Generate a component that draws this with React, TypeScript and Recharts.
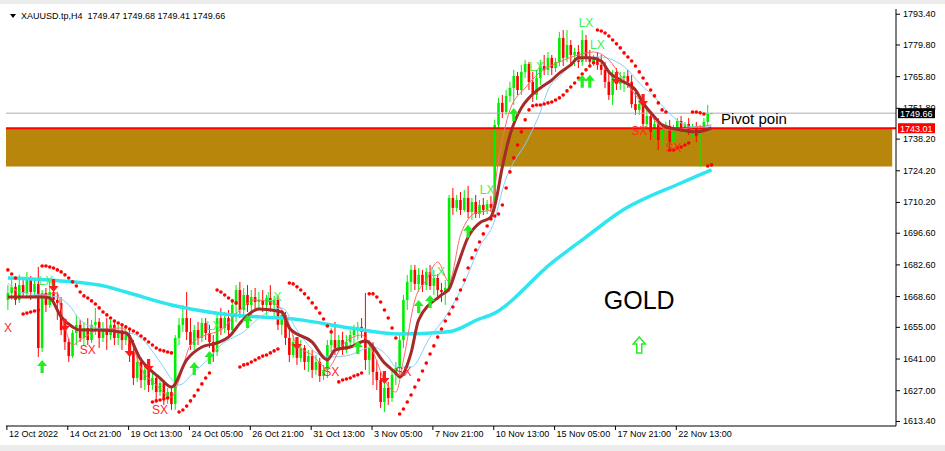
import React from "react";
import {
  ComposedChart,
  Bar,
  Line,
  XAxis,
  YAxis,
  ReferenceLine,
  ReferenceArea,
  ReferenceDot,
} from "recharts";

// H4 bars, 12 Oct 2022 .. 24 Nov 2022 (chart keeps empty room on the right)
const SLOTS = 234;
const LABEL_STEP = 16;
const timeLabels = [
  "12 Oct 2022", "14 Oct 21:00", "19 Oct 13:00", "24 Oct 05:00", "26 Oct 21:00", "31 Oct 13:00",
  "3 Nov 05:00", "7 Nov 21:00", "10 Nov 13:00", "15 Nov 05:00", "17 Nov 21:00", "22 Nov 13:00",
];
const priceTicks = [
  1793.4, 1779.8, 1765.8, 1751.8, 1738.2, 1724.2, 1710.2, 1696.6, 1682.6, 1668.6, 1655.0, 1641.0,
  1627.0, 1613.4,
];

const opens = [
  1667.1, 1670.2, 1672.9, 1667.1, 1673.7, 1670.2, 1675.9, 1670.6, 1674.2, 1645.9,
  1670.2, 1664.9, 1670.6, 1667.1, 1665.8, 1653.8, 1648.5, 1642.3, 1652.5, 1656.1,
  1650.3, 1654.7, 1649.4, 1656.1, 1657.4, 1650.3, 1654.7, 1651.6, 1656.1, 1650.3,
  1653.8, 1649.4, 1651.6, 1644.1, 1632.6, 1639.7, 1631.7, 1636.2, 1629.5, 1632.6,
  1626.4, 1630.4, 1623.8, 1626.4, 1621.1, 1650.3, 1656.1, 1659.1, 1653.0, 1647.2,
  1653.8, 1650.3, 1656.9, 1652.5, 1648.5, 1644.1, 1659.1, 1654.7, 1659.1, 1653.8,
  1664.9, 1671.5, 1662.7, 1669.3, 1664.9, 1668.4, 1666.2, 1667.1, 1664.9, 1668.0,
  1664.9, 1667.1, 1656.1, 1660.5, 1650.3, 1642.8, 1648.5, 1641.5, 1645.9, 1639.7,
  1642.3, 1636.2, 1639.7, 1633.5, 1636.2, 1647.2, 1649.4, 1645.9, 1649.4, 1645.0,
  1648.5, 1651.6, 1653.8, 1655.2, 1653.0, 1640.6, 1645.9, 1635.3, 1631.7, 1622.0,
  1628.2, 1623.8, 1634.0, 1637.0, 1649.4, 1667.1, 1675.1, 1680.4, 1674.2, 1678.2,
  1673.7, 1679.5, 1673.3, 1676.8, 1671.5, 1670.6, 1672.4, 1712.2, 1707.8, 1711.3,
  1706.9, 1712.2, 1706.0, 1710.4, 1705.1, 1709.1, 1706.9, 1709.5, 1707.8, 1744.5,
  1754.2, 1750.2, 1757.3, 1760.8, 1766.1, 1759.9, 1767.9, 1771.4, 1763.5, 1757.7,
  1765.2, 1770.5, 1768.8, 1774.1, 1769.6, 1772.3, 1782.9, 1774.1, 1779.8, 1775.4,
  1776.7, 1772.3, 1782.0, 1774.1, 1772.3, 1774.5, 1771.0, 1768.8, 1763.5, 1757.7,
  1766.5, 1762.6, 1765.2, 1766.1, 1763.5, 1753.7, 1751.1, 1753.7, 1744.9, 1748.4,
  1741.4, 1744.9, 1737.8, 1742.2, 1744.0, 1736.9, 1741.4, 1746.2, 1743.1, 1744.9,
  1741.8, 1743.6, 1739.6, 1743.1, 1745.8, 1749.47,
];
const highs = [
  1673.7, 1675.9, 1674.6, 1678.2, 1675.9, 1679.5, 1677.7, 1676.8, 1681.7, 1671.5,
  1672.4, 1675.1, 1673.7, 1670.6, 1668.4, 1657.4, 1650.3, 1653.8, 1660.5, 1658.3,
  1657.4, 1659.1, 1658.3, 1663.6, 1659.1, 1657.4, 1659.1, 1658.3, 1658.3, 1656.1,
  1656.1, 1654.7, 1653.8, 1649.4, 1642.8, 1641.5, 1638.4, 1639.7, 1635.3, 1634.0,
  1632.6, 1631.7, 1628.2, 1628.2, 1651.6, 1659.1, 1664.9, 1670.6, 1659.1, 1656.1,
  1657.4, 1659.1, 1659.1, 1656.1, 1651.6, 1661.8, 1663.6, 1661.8, 1662.7, 1667.1,
  1673.7, 1675.1, 1672.4, 1673.7, 1671.5, 1672.4, 1670.6, 1671.5, 1669.3, 1673.7,
  1668.9, 1668.9, 1662.7, 1661.8, 1654.7, 1651.6, 1650.3, 1649.4, 1647.2, 1645.0,
  1645.0, 1642.8, 1641.5, 1638.4, 1649.4, 1654.7, 1657.4, 1651.6, 1653.0, 1651.6,
  1653.8, 1656.1, 1657.4, 1659.1, 1670.2, 1649.4, 1648.5, 1640.6, 1635.3, 1631.7,
  1630.9, 1636.2, 1639.7, 1651.6, 1669.3, 1678.2, 1682.6, 1682.6, 1681.2, 1680.4,
  1681.2, 1682.6, 1680.4, 1678.6, 1674.6, 1675.9, 1713.5, 1716.6, 1713.5, 1714.8,
  1715.7, 1717.5, 1712.2, 1713.5, 1711.3, 1712.2, 1711.3, 1713.1, 1746.7, 1756.4,
  1757.7, 1759.9, 1763.5, 1768.8, 1767.9, 1771.0, 1773.2, 1772.3, 1767.9, 1768.8,
  1773.2, 1775.4, 1776.7, 1775.4, 1774.1, 1785.6, 1786.4, 1786.4, 1782.0, 1778.5,
  1779.8, 1786.4, 1784.2, 1777.6, 1775.4, 1776.7, 1775.4, 1772.3, 1768.8, 1768.8,
  1769.6, 1767.9, 1767.9, 1768.8, 1766.5, 1760.8, 1755.5, 1757.3, 1751.1, 1750.2,
  1747.5, 1747.5, 1744.5, 1745.8, 1746.7, 1744.5, 1747.5, 1748.4, 1745.8, 1747.5,
  1744.9, 1745.8, 1744.5, 1747.5, 1753.3, 1749.68,
];
const lows = [
  1662.7, 1667.1, 1664.9, 1665.8, 1668.0, 1668.9, 1667.1, 1668.4, 1641.9, 1644.1,
  1661.8, 1663.6, 1664.9, 1658.3, 1651.6, 1645.0, 1639.7, 1641.5, 1647.2, 1648.5,
  1647.2, 1647.2, 1648.1, 1651.6, 1645.9, 1648.5, 1645.0, 1649.4, 1647.2, 1647.2,
  1645.0, 1647.2, 1639.7, 1629.5, 1630.9, 1628.2, 1627.3, 1626.4, 1627.3, 1622.9,
  1624.7, 1620.7, 1621.1, 1618.5, 1618.5, 1647.2, 1653.0, 1649.4, 1645.0, 1645.0,
  1647.2, 1648.5, 1649.4, 1645.9, 1639.7, 1642.3, 1651.6, 1652.5, 1650.3, 1651.6,
  1657.4, 1659.1, 1660.5, 1661.8, 1660.5, 1662.7, 1662.7, 1661.8, 1660.5, 1661.8,
  1659.1, 1653.8, 1651.6, 1647.2, 1639.7, 1641.5, 1638.4, 1639.7, 1636.2, 1635.3,
  1632.6, 1634.0, 1630.9, 1631.7, 1632.6, 1644.1, 1642.8, 1644.1, 1642.8, 1643.7,
  1645.9, 1647.2, 1649.4, 1650.3, 1636.2, 1634.0, 1629.5, 1627.3, 1619.4, 1617.6,
  1620.7, 1622.0, 1629.5, 1634.0, 1645.9, 1662.7, 1670.6, 1671.5, 1670.6, 1670.6,
  1671.5, 1671.5, 1669.3, 1667.1, 1666.2, 1664.9, 1670.6, 1704.7, 1706.0, 1704.7,
  1706.0, 1703.3, 1702.5, 1703.3, 1703.3, 1704.7, 1705.1, 1706.0, 1706.0, 1742.2,
  1747.5, 1748.9, 1754.6, 1753.3, 1757.7, 1757.7, 1765.2, 1759.9, 1754.6, 1755.5,
  1762.1, 1766.5, 1766.5, 1766.5, 1767.9, 1770.5, 1770.5, 1772.3, 1771.0, 1770.5,
  1769.6, 1770.5, 1772.3, 1771.0, 1770.5, 1768.8, 1766.5, 1760.8, 1755.5, 1753.3,
  1759.9, 1759.9, 1759.0, 1760.8, 1752.0, 1748.9, 1748.9, 1743.1, 1742.2, 1737.8,
  1738.7, 1733.4, 1735.6, 1738.7, 1734.3, 1732.5, 1739.1, 1741.4, 1740.5, 1740.0,
  1738.7, 1736.9, 1725.9, 1741.4, 1744.5, 1749.41,
];
const closes = [
  1670.2, 1672.9, 1667.1, 1673.7, 1670.2, 1675.9, 1670.6, 1674.2, 1645.9, 1670.2,
  1664.9, 1670.6, 1667.1, 1665.8, 1653.8, 1648.5, 1642.3, 1652.5, 1656.1, 1650.3,
  1654.7, 1649.4, 1656.1, 1657.4, 1650.3, 1654.7, 1651.6, 1656.1, 1650.3, 1653.8,
  1649.4, 1651.6, 1644.1, 1632.6, 1639.7, 1631.7, 1636.2, 1629.5, 1632.6, 1626.4,
  1630.4, 1623.8, 1626.4, 1621.1, 1650.3, 1656.1, 1659.1, 1653.0, 1647.2, 1653.8,
  1650.3, 1656.9, 1652.5, 1648.5, 1644.1, 1659.1, 1654.7, 1659.1, 1653.8, 1664.9,
  1671.5, 1662.7, 1669.3, 1664.9, 1668.4, 1666.2, 1667.1, 1664.9, 1668.0, 1664.9,
  1667.1, 1656.1, 1660.5, 1650.3, 1642.8, 1648.5, 1641.5, 1645.9, 1639.7, 1642.3,
  1636.2, 1639.7, 1633.5, 1636.2, 1647.2, 1649.4, 1645.9, 1649.4, 1645.0, 1648.5,
  1651.6, 1653.8, 1655.2, 1653.0, 1640.6, 1645.9, 1635.3, 1631.7, 1622.0, 1628.2,
  1623.8, 1634.0, 1637.0, 1649.4, 1667.1, 1675.1, 1680.4, 1674.2, 1678.2, 1673.7,
  1679.5, 1673.3, 1676.8, 1671.5, 1670.6, 1672.4, 1712.2, 1707.8, 1711.3, 1706.9,
  1712.2, 1706.0, 1710.4, 1705.1, 1709.1, 1706.9, 1709.5, 1707.8, 1744.5, 1754.2,
  1750.2, 1757.3, 1760.8, 1766.1, 1759.9, 1767.9, 1771.4, 1763.5, 1757.7, 1765.2,
  1770.5, 1768.8, 1774.1, 1769.6, 1772.3, 1782.9, 1774.1, 1779.8, 1775.4, 1776.7,
  1772.3, 1782.0, 1774.1, 1772.3, 1774.5, 1771.0, 1768.8, 1763.5, 1757.7, 1766.5,
  1762.6, 1765.2, 1766.1, 1763.5, 1753.7, 1751.1, 1753.7, 1744.9, 1748.4, 1741.4,
  1744.9, 1737.8, 1742.2, 1744.0, 1736.9, 1741.4, 1746.2, 1743.1, 1744.9, 1741.8,
  1743.6, 1739.6, 1743.1, 1745.8, 1749.5, 1749.66,
];

// indicator readings as [bar index, price]
const maThick = [
  [0, 1668.4], [9, 1668.4], [11, 1668.0], [14, 1659.6], [17, 1655.2], [19, 1653.8], [24, 1653.8],
  [31, 1652.5], [35, 1640.6], [40, 1632.6], [43, 1628.6], [47, 1640.6], [51, 1646.3], [55, 1648.1],
  [58, 1650.7], [62, 1658.7], [66, 1663.1], [72, 1661.8], [74, 1654.7], [80, 1648.5], [84, 1640.6],
  [86, 1645.0], [90, 1646.3], [94, 1649.0], [99, 1639.3], [102, 1634.8], [103, 1633.1],
  [106, 1643.7], [108, 1658.3], [114, 1669.3], [116, 1672.0], [118, 1681.2], [121, 1694.9],
  [124, 1701.1], [127, 1703.8], [128, 1708.6], [130, 1725.9], [132, 1740.0], [135, 1752.0],
  [137, 1756.4], [140, 1760.8], [143, 1764.3], [145, 1767.4], [148, 1771.0], [150, 1774.1],
  [153, 1774.1], [156, 1772.7], [158, 1767.9], [161, 1764.3], [165, 1759.9], [167, 1754.2],
  [170, 1748.0], [172, 1744.5], [177, 1742.2], [181, 1741.4], [185, 1743.1],
];
const maFast = [
  [0, 1668.4], [9, 1669.3], [13, 1670.2], [14, 1662.7], [17, 1647.2], [19, 1649.4], [24, 1653.8],
  [30, 1654.7], [32, 1650.3], [35, 1637.0], [39, 1629.5], [43, 1624.2], [45, 1631.7], [48, 1647.2],
  [52, 1651.6], [56, 1653.8], [61, 1662.7], [65, 1667.1], [69, 1666.2], [73, 1660.5], [76, 1647.2],
  [80, 1642.8], [84, 1637.0], [88, 1647.2], [93, 1651.6], [96, 1644.1], [99, 1631.7], [102, 1626.4],
  [104, 1640.6], [107, 1667.1], [110, 1675.9], [113, 1683.9], [116, 1675.1], [119, 1695.8],
  [123, 1705.6], [127, 1706.9], [129, 1729.0], [132, 1751.1], [136, 1760.8], [140, 1767.9],
  [145, 1772.3], [150, 1775.4], [154, 1776.7], [158, 1773.2], [161, 1766.5], [163, 1762.1],
  [166, 1755.5], [169, 1748.9], [171, 1744.5], [174, 1742.2], [179, 1743.1], [185, 1744.5],
];
const maMid = [
  [0, 1674.6], [3, 1670.6], [13, 1668.4], [16, 1664.9], [19, 1658.3], [22, 1655.2], [28, 1653.8],
  [31, 1653.0], [35, 1650.3], [40, 1639.7], [44, 1630.4], [45, 1629.5], [49, 1635.3], [53, 1641.5],
  [56, 1647.2], [59, 1650.3], [62, 1653.0], [66, 1659.1], [72, 1663.6], [76, 1653.8], [82, 1642.8],
  [85, 1641.9], [90, 1642.8], [93, 1645.0], [96, 1646.3], [100, 1641.9], [102, 1637.5],
  [106, 1637.5], [111, 1650.7], [115, 1659.6], [120, 1674.6], [124, 1690.5], [128, 1702.5],
  [130, 1715.7], [137, 1739.1], [140, 1750.2], [142, 1759.9], [145, 1765.7], [150, 1773.2],
  [156, 1774.5], [159, 1773.2], [163, 1768.8], [166, 1763.0], [170, 1756.8], [173, 1751.1],
  [177, 1745.4], [180, 1743.6], [185, 1743.6],
];
const maSlow = [
  [0, 1676.8], [24, 1673.7], [31, 1670.6], [43, 1664.9], [56, 1661.0], [77, 1658.3], [90, 1654.7],
  [103, 1652.1], [116, 1653.1], [124, 1658.7], [127, 1660.5], [143, 1683.5], [152, 1694.9],
  [161, 1706.1], [177, 1718.8], [185, 1724.6],
];
const sarDots = [
  [0, 1680.4], [1, 1678.6], [2, 1676.8], [4, 1660.9], [5, 1661.3], [6, 1661.8], [7, 1662.2],
  [8, 1662.7], [9, 1682.1], [10, 1682.1], [11, 1681.7], [12, 1681.2], [13, 1680.4], [14, 1679.5],
  [15, 1678.2], [16, 1676.8], [17, 1675.1], [18, 1673.3], [19, 1670.6], [20, 1668.9], [21, 1668.0],
  [22, 1666.7], [23, 1665.3], [24, 1663.6], [25, 1661.8], [26, 1660.5], [27, 1659.1], [28, 1657.8],
  [29, 1656.9], [30, 1656.1], [31, 1655.2], [32, 1654.3], [33, 1653.4], [34, 1652.5], [35, 1651.2],
  [36, 1649.9], [37, 1648.5], [38, 1647.2], [39, 1645.9], [40, 1645.0], [41, 1644.6], [42, 1644.1],
  [43, 1643.7], [45, 1617.6], [46, 1618.5], [47, 1620.2], [48, 1622.5], [49, 1624.7], [50, 1627.3],
  [51, 1630.0], [52, 1632.6], [53, 1634.8], [55, 1671.5], [56, 1670.6], [57, 1669.3], [58, 1668.0],
  [59, 1666.7], [60, 1665.8], [61, 1637.5], [62, 1638.4], [63, 1638.8], [64, 1639.7], [65, 1640.6],
  [66, 1641.5], [67, 1642.3], [68, 1642.8], [69, 1643.7], [70, 1644.6], [71, 1645.4], [74, 1674.6],
  [75, 1674.2], [76, 1672.9], [77, 1671.5], [78, 1669.8], [79, 1668.0], [80, 1665.8], [81, 1663.6],
  [82, 1661.3], [83, 1658.7], [84, 1655.6], [85, 1653.0], [87, 1630.9], [88, 1631.7], [89, 1632.2],
  [90, 1632.6], [91, 1633.5], [92, 1634.0], [93, 1634.8], [95, 1669.8], [96, 1669.8], [97, 1668.4],
  [98, 1666.2], [99, 1662.7], [100, 1659.1], [101, 1654.7], [102, 1650.3], [103, 1616.7],
  [104, 1618.9], [105, 1622.0], [106, 1625.1], [107, 1628.6], [108, 1631.7], [109, 1635.7],
  [110, 1639.2], [111, 1643.2], [112, 1646.8], [113, 1650.7], [114, 1654.3], [115, 1657.8],
  [116, 1660.9], [117, 1664.0], [118, 1667.5], [119, 1671.5], [120, 1675.9], [121, 1681.2],
  [122, 1685.7], [123, 1689.2], [124, 1692.7], [125, 1696.3], [126, 1699.8], [127, 1702.9],
  [128, 1704.2], [129, 1705.1], [130, 1709.1], [131, 1716.6], [132, 1723.7], [133, 1729.9],
  [134, 1735.6], [135, 1741.4], [136, 1746.7], [137, 1751.1], [138, 1752.9], [139, 1753.3],
  [140, 1753.3], [141, 1753.7], [142, 1754.2], [143, 1754.6], [144, 1755.5], [145, 1756.4],
  [146, 1757.7], [147, 1759.5], [148, 1761.2], [149, 1763.0], [150, 1765.2], [151, 1767.0],
  [152, 1768.8], [153, 1770.5], [154, 1771.9], [155, 1786.4], [156, 1786.0], [157, 1785.1],
  [158, 1783.8], [159, 1782.0], [160, 1780.3], [161, 1778.5], [162, 1776.3], [163, 1774.5],
  [164, 1772.7], [165, 1770.5], [166, 1767.9], [167, 1765.2], [168, 1762.6], [169, 1759.9],
  [170, 1757.3], [171, 1754.2], [172, 1751.1], [173, 1750.2], [180, 1750.2], [181, 1750.2],
  [182, 1749.8], [183, 1749.3], [184, 1726.3], [185, 1726.8],
];
const stopDots = [
  [38, 1622.0], [39, 1622.5], [40, 1622.9], [41, 1623.3], [42, 1623.8],
  [174, 1733.4], [175, 1733.4], [176, 1734.3], [177, 1734.7], [178, 1735.6], [179, 1736.5],
];
const upArrows = [
  [9, 1637.5], [49, 1636.6], [53, 1641.5], [63, 1657.4], [92, 1645.9], [108, 1664.0], [111, 1666.2],
  [121, 1697.2], [133, 1748.9], [151, 1763.5], [153, 1763.5],
];
const downArrows = [
  [12, 1673.7], [15, 1656.1], [32, 1645.0], [37, 1638.4], [76, 1648.1], [99, 1633.1], [160, 1765.2],
  [167, 1755.5],
];
const lxMarks = [
  [10, 1675.5], [54, 1655.6], [70, 1668.4], [113, 1679.5], [126, 1715.7], [139, 1770.1],
  [152, 1789.5], [155, 1779.8],
];
const sxMarks = [
  [21, 1645.0], [40, 1618.5], [85, 1635.3], [104, 1635.3], [166, 1741.8], [175, 1734.3],
];

const bidPrice = 1749.66;
const pivotPrice = 1743.01;
const zoneLow = 1726.1;

const FONT = "Liberation Sans, Arial, sans-serif";

function buildRows() {
  const rows: any[] = [];
  for (let i = 0; i < SLOTS; i++) {
    const r: any = { i };
    if (i < closes.length) {
      r.o = opens[i];
      r.h = highs[i];
      r.l = lows[i];
      r.c = closes[i];
      r.range = [lows[i], highs[i]];
    }
    rows.push(r);
  }
  const put = (key: string, pts: number[][]) =>
    pts.forEach(([i, v]) => {
      rows[i][key] = v;
    });
  put("thick", maThick);
  put("fast", maFast);
  put("mid", maMid);
  put("slow", maSlow);
  put("sar", sarDots);
  put("stop", stopDots);
  put("up", upArrows);
  put("down", downArrows);
  put("lx", lxMarks);
  put("sx", sxMarks);
  return rows;
}

const rows = buildRows();

const Candle = (props: any) => {
  const { x, y, width, height, payload } = props;
  if (!payload || payload.h == null) return <g />;
  const cx = x + width / 2;
  const k = height / (payload.h - payload.l);
  const yo = y + (payload.h - payload.o) * k;
  const yc = y + (payload.h - payload.c) * k;
  const color = payload.c >= payload.o ? "#00ee00" : "#ff0000";
  const top = Math.min(yo, yc);
  const bh = Math.max(1, Math.abs(yo - yc));
  return (
    <g>
      <line x1={cx} x2={cx} y1={y} y2={y + height} stroke={color} strokeWidth={1} />
      <rect x={cx - 1.3} y={top} width={2.6} height={bh} fill={color} />
    </g>
  );
};

const ok = (p: any) => p && typeof p.cy === "number" && !isNaN(p.cy) && p.value != null;

const sarDot = (p: any) =>
  ok(p) ? (
    <circle key={"s" + p.index} cx={p.cx} cy={p.cy} r={1.8} fill="#ff0000" />
  ) : (
    <g key={"s" + p.index} />
  );

const upArrow = (p: any) => {
  if (!ok(p)) return <g key={"u" + p.index} />;
  const { cx, cy } = p;
  const d = `M${cx - 5},${cy - 1} L${cx},${cy - 7} L${cx + 5},${cy - 1} L${cx + 1.6},${cy - 1} L${cx + 1.6},${cy + 6} L${cx - 1.6},${cy + 6} L${cx - 1.6},${cy - 1} Z`;
  return <path key={"u" + p.index} d={d} fill="#22ee22" />;
};

const downArrow = (p: any) => {
  if (!ok(p)) return <g key={"d" + p.index} />;
  const { cx, cy } = p;
  const d = `M${cx - 5},${cy + 1} L${cx},${cy + 7} L${cx + 5},${cy + 1} L${cx + 1.6},${cy + 1} L${cx + 1.6},${cy - 6} L${cx - 1.6},${cy - 6} L${cx - 1.6},${cy + 1} Z`;
  return <path key={"d" + p.index} d={d} fill="#ff1a1a" />;
};

const markText = (label: string, color: string) => (p: any) =>
  ok(p) ? (
    <text
      key={label + p.index}
      x={p.cx}
      y={p.cy}
      textAnchor="middle"
      dominantBaseline="central"
      fontSize={12}
      fontFamily={FONT}
      fill={color}
    >
      {label}
    </text>
  ) : (
    <g key={label + p.index} />
  );

const TimeTick = (props: any) => {
  const { x, y, payload } = props;
  const label = timeLabels[payload.value / LABEL_STEP];
  return (
    <g>
      <line x1={x - 1} x2={x - 1} y1={y} y2={y + 4} stroke="#000" />
      <text x={x + 1} y={y + 11} fontSize={9} fontFamily={FONT} fill="#000">
        {label}
      </text>
    </g>
  );
};

const PriceTick = (props: any) => {
  const { x, y, payload } = props;
  return (
    <g>
      <line x1={x} x2={x + 4} y1={y} y2={y} stroke="#000" />
      <text x={x + 7} y={y + 3} fontSize={9} fontFamily={FONT} fill="#000">
        {Number(payload.value).toFixed(2)}
      </text>
    </g>
  );
};

const priceBox = (value: number, bg: string) => (props: any) => {
  const vb = props.viewBox;
  const x = vb.x + vb.width + 2;
  return (
    <g>
      <rect x={x} y={vb.y - 5} width={37} height={10} fill={bg} />
      <text x={x + 2} y={vb.y + 3.5} fontSize={9} fontFamily={FONT} fill="#fff">
        {value.toFixed(2)}
      </text>
    </g>
  );
};

export default function App() {
  const xTicks = timeLabels.map((_, k) => k * LABEL_STEP);
  return (
    <div style={{ position: "absolute", left: 0, top: 0, width: 945, height: 451, background: "#fff" }}>
      <div style={{ position: "absolute", left: 0, top: 0, width: 945, height: 4, background: "#ececec" }} />
      <div style={{ position: "absolute", left: 0, top: 445, width: 945, height: 6, background: "#ececec" }} />
      <ComposedChart
        width={945}
        height={451}
        data={rows}
        margin={{ top: 9, right: 0, bottom: 0, left: 6 }}
      >
        <XAxis
          dataKey="i"
          type="category"
          ticks={xTicks}
          interval={0}
          tick={<TimeTick />}
          tickLine={false}
          tickSize={0}
          tickMargin={0}
          height={25}
          axisLine={{ stroke: "#000" }}
        />
        <XAxis xAxisId="top" dataKey="i" orientation="top" height={0} tick={false} tickLine={false} axisLine={{ stroke: "#000" }} />
        <YAxis
          orientation="right"
          width={49}
          type="number"
          domain={[1611.4, 1795.7]}
          allowDataOverflow
          ticks={priceTicks}
          interval={0}
          tick={<PriceTick />}
          tickLine={false}
          tickSize={0}
          tickMargin={0}
          axisLine={{ stroke: "#000" }}
        />
        <YAxis yAxisId="left" orientation="left" width={0} type="number" domain={[0, 1]} tick={false} tickLine={false} axisLine={{ stroke: "#000" }} />

        <ReferenceArea x1={0} x2={232} y1={zoneLow} y2={pivotPrice} fill="#b8860b" fillOpacity={1} stroke="none" />
        <ReferenceLine y={bidPrice} stroke="#a8acb4" strokeWidth={1} label={priceBox(bidPrice, "#000")} />

        <Bar dataKey="range" shape={Candle} isAnimationActive={false} />

        <ReferenceLine y={pivotPrice} stroke="#ff0000" strokeWidth={2} label={priceBox(pivotPrice, "#ff0000")} />

        <Line dataKey="slow" type="monotone" stroke="#2ee6f0" strokeWidth={3.5} dot={false} activeDot={false} connectNulls isAnimationActive={false} />
        <Line dataKey="mid" type="monotone" stroke="#87cefa" strokeWidth={1} dot={false} activeDot={false} connectNulls isAnimationActive={false} />
        <Line dataKey="fast" type="monotone" stroke="#ff6a6a" strokeWidth={1} dot={false} activeDot={false} connectNulls isAnimationActive={false} />
        <Line dataKey="thick" type="monotone" stroke="#a52a2a" strokeWidth={3} dot={false} activeDot={false} connectNulls isAnimationActive={false} />

        <Line dataKey="sar" stroke="none" dot={sarDot} activeDot={false} isAnimationActive={false} />
        <Line dataKey="stop" stroke="none" dot={sarDot} activeDot={false} isAnimationActive={false} />
        <Line dataKey="up" stroke="none" dot={upArrow} activeDot={false} isAnimationActive={false} />
        <Line dataKey="down" stroke="none" dot={downArrow} activeDot={false} isAnimationActive={false} />
        <Line dataKey="lx" stroke="none" dot={markText("LX", "#44ee44")} activeDot={false} isAnimationActive={false} />
        <Line dataKey="sx" stroke="none" dot={markText("SX", "#ff2a2a")} activeDot={false} isAnimationActive={false} />

        <ReferenceDot
          x={0}
          y={1654.7}
          r={0}
          shape={(p: any) => (
            <text x={p.cx} y={p.cy} textAnchor="middle" dominantBaseline="central" fontSize={12} fontFamily={FONT} fill="#ff2a2a">
              X
            </text>
          )}
        />
        <ReferenceDot
          x={188}
          y={1747.1}
          r={0}
          shape={(p: any) => (
            <text x={p.cx - 2} y={p.cy} dominantBaseline="central" fontSize={15} fontFamily={FONT} fill="#000">
              Pivot poin
            </text>
          )}
        />
        <ReferenceDot
          x={166}
          y={1667.1}
          r={0}
          shape={(p: any) => (
            <text x={p.cx} y={p.cy} textAnchor="middle" dominantBaseline="central" fontSize={25} fontFamily={FONT} fill="#000">
              GOLD
            </text>
          )}
        />
        <ReferenceDot
          x={166}
          y={1647.2}
          r={0}
          shape={(p: any) => {
            const { cx, cy } = p;
            const d = `M${cx},${cy - 8} L${cx + 6},${cy - 1} L${cx + 2.5},${cy - 1} L${cx + 2.5},${cy + 8} L${cx - 2.5},${cy + 8} L${cx - 2.5},${cy - 1} L${cx - 6},${cy - 1} Z`;
            return <path d={d} fill="none" stroke="#22ee22" strokeWidth={1.5} />;
          }}
        />
      </ComposedChart>
      <div
        style={{
          position: "absolute",
          left: 10,
          top: 14,
          width: 0,
          height: 0,
          borderLeft: "3px solid transparent",
          borderRight: "3px solid transparent",
          borderTop: "4px solid #000",
        }}
      />
      <div
        style={{
          position: "absolute",
          left: 21,
          top: 11,
          fontFamily: FONT,
          fontSize: 9,
          lineHeight: "10px",
          color: "#000",
          whiteSpace: "pre",
        }}
      >
        {"XAUUSD.tp,H4  1749.47 1749.68 1749.41 1749.66"}
      </div>
    </div>
  );
}
